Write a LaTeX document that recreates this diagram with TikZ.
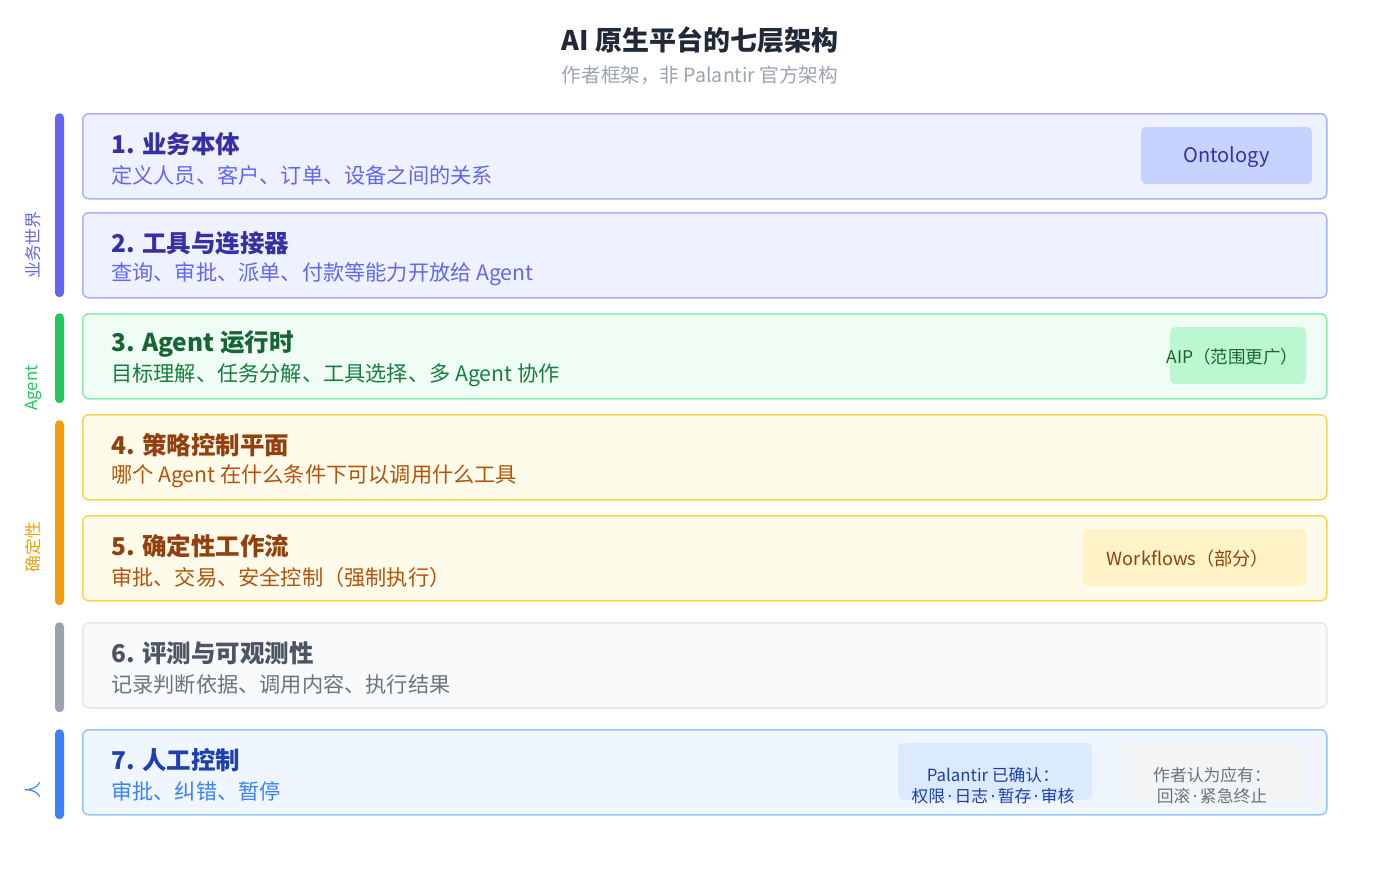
\documentclass[tikz,border=0pt]{standalone}
\usepackage{fontspec}
\setmainfont{Noto Sans CJK SC}
\newfontfamily\latinfont{Noto Sans}
\newcommand{\mdot}{\hspace{2.5pt}{\latinfont ·}\hspace{2.5pt}}
\usetikzlibrary{positioning}

\definecolor{indfill}{HTML}{EEF2FF}
\definecolor{indline}{HTML}{A5B4FC}
\definecolor{indtitle}{HTML}{3730A3}
\definecolor{indsub}{HTML}{6366F1}
\definecolor{indtag}{HTML}{C7D2FE}
\definecolor{grnfill}{HTML}{F0FDF4}
\definecolor{grnline}{HTML}{86EFAC}
\definecolor{grntitle}{HTML}{166534}
\definecolor{grnsub}{HTML}{15803D}
\definecolor{grntag}{HTML}{BBF7D0}
\definecolor{grnbar}{HTML}{22C55E}
\definecolor{ambfill}{HTML}{FFFBEB}
\definecolor{ambline}{HTML}{FCD34D}
\definecolor{ambtitle}{HTML}{92400E}
\definecolor{ambsub}{HTML}{B45309}
\definecolor{ambtag}{HTML}{FEF3C7}
\definecolor{ambbar}{HTML}{F59E0B}
\definecolor{gryfill}{HTML}{F9FAFB}
\definecolor{gryline}{HTML}{E5E7EB}
\definecolor{grytitle}{HTML}{4B5563}
\definecolor{grysub}{HTML}{6B7280}
\definecolor{grytag}{HTML}{F3F4F6}
\definecolor{grybar}{HTML}{9CA3AF}
\definecolor{blufill}{HTML}{EFF6FF}
\definecolor{bluline}{HTML}{93C5FD}
\definecolor{blutitle}{HTML}{1E40AF}
\definecolor{blusub}{HTML}{3B82F6}
\definecolor{blutag}{HTML}{DBEAFE}
\definecolor{headcol}{HTML}{1F2937}

\begin{document}
\begin{tikzpicture}[x=1pt,y=-1pt,
  layer/.style={draw,line width=1.5pt,rounded corners=6pt,minimum width=1244pt,minimum height=85pt,anchor=north west,inner sep=0pt},
  ltitle/.style={anchor=west,inner sep=0pt,font=\fontsize{24.5}{30}\selectfont\bfseries},
  lsub/.style={anchor=west,inner sep=0pt,font=\fontsize{21.2}{25}\selectfont},
  bar/.style={rounded corners=4.5pt,minimum width=9pt,anchor=north,inner sep=0pt},
  side/.style={rotate=90,inner sep=0pt,font=\fontsize{16.8}{20}\selectfont},
  tagbox/.style={rounded corners=5pt,minimum height=57pt,inner sep=0pt},
  tagtext/.style={inner sep=0pt,align=center}]

\useasboundingbox (0,0) rectangle (1400,894);

\node[font=\fontsize{27}{32}\selectfont\bfseries,text=headcol] (head) at (700,40) {AI 原生平台的七层架构};
\node[font=\fontsize{19.6}{24}\selectfont,text=grybar] (subhead) at (700,75) {作者框架，非 Palantir 官方架构};

\foreach \i/\ytop/\col/\ttl/\desc in {
  1/113/ind/{1. 业务本体}/{定义人员、客户、订单、设备之间的关系},
  2/212/ind/{2. 工具与连接器}/{查询、审批、派单、付款等能力开放给 Agent},
  3/313/grn/{3. Agent 运行时}/{目标理解、任务分解、工具选择、多 Agent 协作},
  4/414/amb/{4. 策略控制平面}/{哪个 Agent 在什么条件下可以调用什么工具},
  5/515/amb/{5. 确定性工作流}/{审批、交易、安全控制（强制执行）},
  6/622/gry/{6. 评测与可观测性}/{记录判断依据、调用内容、执行结果},
  7/729/blu/{7. 人工控制}/{审批、纠错、暂停}}
{
  \node[layer,draw=\col line,fill=\col fill] (l\i) at (82,\ytop) {};
  \node[ltitle,text=\col title] (t\i) at (111,{\ytop+31}) {\ttl};
  \node[lsub,text=\col sub] (s\i) at (111,{\ytop+62}) {\desc};
}

\node[bar,fill=indsub,minimum height=184pt] (b1) at (59.5,113) {};
\node[bar,fill=grnbar,minimum height=90pt] (b2) at (59.5,313) {};
\node[bar,fill=ambbar,minimum height=185pt] (b3) at (59.5,420) {};
\node[bar,fill=grybar,minimum height=90pt] (b4) at (59.5,622) {};
\node[bar,fill=blusub,minimum height=90pt] (b5) at (59.5,729) {};

\node[side,text=indsub] (g1) at (33,245) {业务世界};
\node[side,text=grnbar] (g2) at (33,388) {Agent};
\node[side,text=ambbar] (g3) at (33,547) {确定性};
\node[side,text=blusub] (g5) at (33,790) {人};

\node[tagbox,fill=indtag,minimum width=171pt] (onto) at (1226.5,155.5) {};
\node[tagtext,text=indtitle,font=\fontsize{20}{24}\selectfont] (ontot) at (1226.5,157.5) {Ontology};

\node[tagbox,fill=grntag,minimum width=136pt] (aip) at (1238,355.5) {};
\node[tagtext,text=grntitle,font=\fontsize{17.5}{21}\selectfont] (aipt) at (1232.5,357) {AIP（范围更广）};

\node[tagbox,fill=ambtag,minimum width=223pt] (wf) at (1194.5,557.5) {};
\node[tagtext,text=ambtitle,font=\fontsize{18.2}{22}\selectfont] (wft) at (1188,559) {Workflows（部分）};

\node[tagbox,fill=blutag,minimum width=194pt] (pal) at (995,771.5) {};
\node[tagtext,text=blutitle,font=\fontsize{16.8}{21}\selectfont] (palt) at (993,785.5) {Palantir 已确认：\\权限\mdot 日志\mdot 暂存\mdot 审核};

\node[tagbox,fill=grytag,minimum width=184pt] (own) at (1214,771.5) {};
\node[tagtext,text=grysub,font=\fontsize{16.8}{21}\selectfont] (ownt) at (1212,785.5) {作者认为应有：\\回滚\mdot 紧急终止};

\end{tikzpicture}
\end{document}
